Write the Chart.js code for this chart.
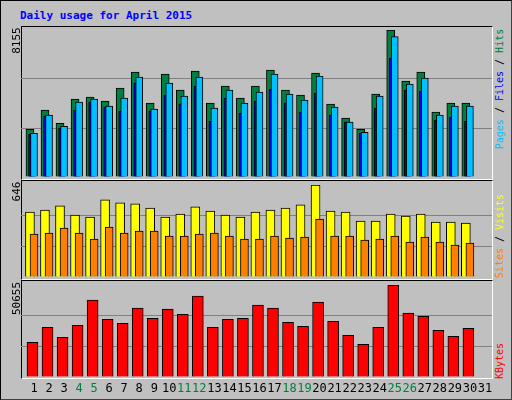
<!DOCTYPE html>
<html><head><meta charset="utf-8">
<script src="https://cdn.jsdelivr.net/npm/chart.js@4"></script>
<style>
body{margin:0;background:#fff;}
#wrap{position:relative;width:510px;height:398px;background:#C0C0C0;border:1px solid #000;border-right-color:#404040;border-bottom-color:#404040;overflow:hidden;font-family:"DejaVu Sans Mono",monospace;}
.frame{position:absolute;left:20px;width:470px;border:1px solid #000;border-right-color:#fff;border-bottom-color:#fff;}
canvas{position:absolute;}
.rl{position:absolute;width:200px;text-align:center;transform:rotate(-90deg);font-size:10px;line-height:10px;white-space:nowrap;}
.ll{position:absolute;width:80px;text-align:center;transform:rotate(-90deg);font-size:11px;line-height:11px;color:#000;}
#title{position:absolute;left:19px;top:8px;font:bold 11px "DejaVu Sans Mono",monospace;color:#0000FF;}
</style></head><body>
<div id="wrap">
<div id="title">Daily usage for April 2015</div>
<div class="frame" style="top:25px;height:152px"></div>
<div class="frame" style="top:179px;height:98px"></div>
<div class="frame" style="top:279px;height:97px"></div>
<canvas id="c1" style="left:20px;top:29px;width:471px;height:147px"></canvas>
<canvas id="c2" style="left:20px;top:184px;width:471px;height:92px"></canvas>
<canvas id="c3" style="left:20px;top:284px;width:471px;height:116px"></canvas>
<div class="ll" style="left:-25px;top:34px">8155</div>
<div class="ll" style="left:-25px;top:185px">646</div>
<div class="ll" style="left:-25px;top:292px">50655</div>
<div class="rl" style="left:399px;top:83px"><span style="color:#00C0FF">Pages</span> / <span style="color:#0000FF">Files</span> / <span style="color:#008040">Hits</span></div>
<div class="rl" style="left:399px;top:230px"><span style="color:#FF8000">Sites</span> / <span style="color:#FFFF00">Visits</span></div>
<div class="rl" style="left:399px;top:355px"><span style="color:#FF0000">KBytes</span></div>
</div>
<script>
const days = Array.from({length:31},(_,i)=>String(i+1));
const weekendDays = [4,5,11,12,18,19,25,26];
const hits  = [2650,3707,2984,4318,4430,4207,4930,5820,4096,5708,4819,5875,4096,5041,4374,5041,5931,4819,4541,5764,4040,3262,2650,4596,8155,5319,5820,3596,4096,4096];
const files = [2428,3429,2817,4152,4318,3929,4374,5542,3762,5208,4485,5542,3818,4819,4096,4708,5708,4596,4263,5597,3874,3040,2484,4485,7785,5153,5486,3429,3929,3929];
const pages = [2372,3373,2706,3707,4152,3874,3651,5208,3651,4541,4040,5041,3095,4374,3540,4207,4875,4096,3596,4652,3429,3040,2428,3818,6598,4819,4763,3151,3318,3095];
const visits= [456,470,499,435,421,541,520,513,484,421,442,492,463,435,421,456,470,484,506,646,463,456,393,393,442,428,442,386,386,379];
const sites = [302,309,344,309,267,351,309,323,323,288,288,302,309,288,267,267,288,274,281,407,288,288,260,267,288,246,281,246,225,239];
const kbytes= [19042,27361,21815,28470,42336,31798,29580,37899,32353,37344,34571,44554,27361,31798,32353,39563,37899,30134,27916,41227,30689,22924,17933,27361,50655,35126,33462,25698,22370,26806];
const maxTop=8155, maxMid=646, maxBot=50655;

function pts(arr,off){return arr.map((v,i)=>({x:i+1+off,y:v}));}
function ds(arr,off,color,w,order){return {data:pts(arr,off),backgroundColor:color,borderColor:'#000',borderWidth:1,barThickness:w,borderSkipped:'bottom',order:order};}
function opts(max,extraPad){
  return {responsive:false,animation:false,events:[],
    layout:{padding:{left:0,right:0,top:0,bottom:extraPad||0}},
    plugins:{legend:{display:false},tooltip:{enabled:false}},
    datasets:{bar:{grouped:false}},
    scales:{
      x:{type:'linear',min:0.135,max:31.47,offset:false,bounds:'ticks',display:false},
      y:{min:0,max:max,display:true,border:{display:false},ticks:{display:false},
        afterBuildTicks:s=>{s.ticks=[0,max/3,2*max/3,max].map(v=>({value:v}));},
        grid:{drawTicks:false,color:c=>(c.index===1||c.index===2)?'#808080':'rgba(0,0,0,0)',lineWidth:1}}
    }};
}
function mk(id,w,h,datasets,max,pad,plugins){
  const c=document.getElementById(id);c.width=w;c.height=h;
  return new Chart(c,{type:'bar',data:{datasets},options:opts(max,pad),plugins:plugins||[]});
}
mk('c1',471,147,[ds(hits,-0.27,'#008040',8,2),ds(pages,-0.13,'#0000FF',7,1),ds(files,0,'#00C0FF',7,0)],maxTop);
mk('c2',471,92,[ds(visits,-0.27,'#FFFF00',9,1),ds(sites,0,'#FF8000',8,0)],maxMid);
const dayLabels={id:'dl',afterDraw(ch){
  const ctx=ch.ctx,xs=ch.scales.x;
  ctx.save();ctx.font='12px "DejaVu Sans Mono", monospace';ctx.textAlign='center';ctx.textBaseline='middle';
  days.forEach((d,i)=>{ctx.fillStyle=weekendDays.includes(+d)?'#008040':'#000';
    ctx.fillText(d,xs.getPixelForValue(i+1),104);});
  ctx.restore();}};
mk('c3',471,116,[ds(kbytes,-0.1,'#FF0000',11,0)],maxBot,24,[dayLabels]);
</script>
</body></html>
